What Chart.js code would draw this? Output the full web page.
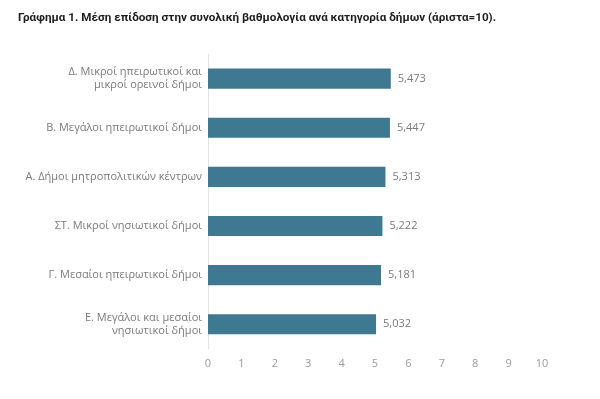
<!DOCTYPE html>
<html>
<head>
<meta charset="utf-8">
<script src="https://cdn.jsdelivr.net/npm/chart.js@4"></script>
<style>
  html, body { margin: 0; padding: 0; background: #fff; }
  #wrap { width: 600px; height: 399px; }
</style>
</head>
<body>
<div id="wrap"><canvas id="chart"></canvas></div>
<script>
const titleText = "Γράφημα 1. Μέση επίδοση στην συνολική βαθμολογία ανά κατηγορία δήμων (άριστα=10).";
const categories = [
    ["Δ. Μικροί ηπειρωτικοί και", "μικροί ορεινοί δήμοι"],
    "Β. Μεγάλοι ηπειρωτικοί δήμοι",
    "Α. Δήμοι μητροπολιτικών κέντρων",
    "ΣΤ. Μικροί νησιωτικοί δήμοι",
    "Γ. Μεσαίοι ηπειρωτικοί δήμοι",
    ["Ε. Μεγάλοι και μεσαίοι", "νησιωτικοί δήμοι"]
];
const scores = [5.473, 5.447, 5.313, 5.222, 5.181, 5.032];
const xTicks = [0, 1, 2, 3, 4, 5, 6, 7, 8, 9, 10];

const barColor = "#3e7891";
const textGray = "#7a7a7a";
const fontFamily = "'Open Sans', sans-serif";

// etiquetas de valor al final de cada barra
const valueLabels = {
    id: "valueLabels",
    afterDatasetsDraw(chart) {
        const ctx = chart.ctx;
        const meta = chart.getDatasetMeta(0);
        ctx.save();
        ctx.font = "11px " + fontFamily;
        ctx.fillStyle = textGray;
        ctx.textAlign = "left";
        ctx.textBaseline = "middle";
        meta.data.forEach((bar, i) => {
            const txt = scores[i].toFixed(3).replace(".", ",");
            ctx.fillText(txt, bar.x + 7, bar.y);
        });
        ctx.restore();
    }
};

new Chart(document.getElementById("chart").getContext("2d"), {
    type: "bar",
    data: {
        labels: categories,
        datasets: [{
            data: scores,
            backgroundColor: barColor,
            borderWidth: 0,
            barPercentage: 0.8,
            categoryPercentage: 0.51
        }]
    },
    options: {
        indexAxis: "y",
        responsive: true,
        maintainAspectRatio: false,
        animation: false,
        layout: { padding: { left: 18, right: 58, top: 0, bottom: 21 } },
        plugins: {
            legend: { display: false },
            tooltip: { enabled: false },
            title: {
                display: true,
                text: titleText,
                align: "start",
                color: "#1e1e1e",
                font: { family: "Roboto, sans-serif", size: 11.7, weight: "bold" },
                padding: { top: 11, bottom: 29 }
            }
        },
        scales: {
            x: {
                min: 0,
                max: 10,
                afterBuildTicks: (scale) => { scale.ticks = xTicks.map(v => ({ value: v })); },
                grid: { display: false, drawTicks: false },
                border: { display: false },
                ticks: {
                    color: "#9a9a9a",
                    padding: 8,
                    font: { family: fontFamily, size: 11 }
                }
            },
            y: {
                afterFit: (scale) => { scale.width = 190; },
                grid: { display: false, drawTicks: false },
                border: { display: true, color: "#e2e2e2", width: 1 },
                ticks: {
                    color: textGray,
                    padding: 6,
                    font: { family: fontFamily, size: 11 }
                }
            }
        }
    },
    plugins: [valueLabels]
});
</script>
</body>
</html>
